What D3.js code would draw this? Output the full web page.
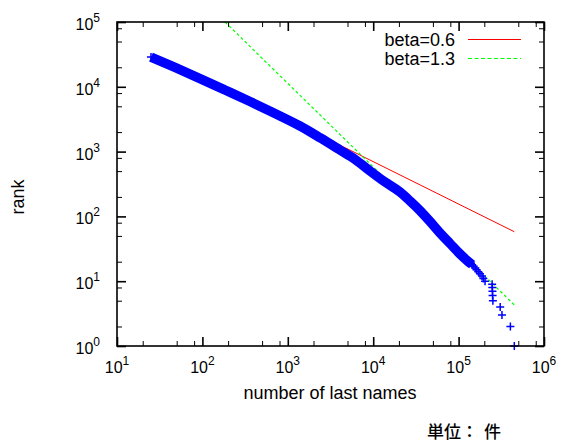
<!DOCTYPE html>
<html><head><meta charset="utf-8">
<script src="https://cdn.jsdelivr.net/npm/d3@7/dist/d3.min.js"></script>
<style>
body{margin:0;background:#fff}
svg{display:block}
text{font-family:"Liberation Sans",Arial,Helvetica,sans-serif;fill:#000}
</style>
</head><body>
<svg id="chart" width="561" height="442"></svg>
<script>
// ---- data ----
// dense band of points: (number of last names, rank)
const bandCounts = [25.0, 47.8, 93.7, 184, 361, 708, 1390, 2380, 4080, 6120, 9180, 13700, 20600, 27000, 35300, 46300, 60600, 79300, 104000, 125000, 144000];
const bandRanks  = [28800, 19900, 13400, 8930, 5930, 3870, 2480, 1640, 1060, 760, 502, 340, 238, 173, 123, 83.4, 55.5, 38.2, 26.3, 21, 18];
// sparse tail of individual points
const tailCounts = [449000, 404000, 322000, 307000, 252000, 250000, 249000, 248000, 247000, 204000, 195000, 188000, 178000, 170000, 162000, 157000, 150000, 140000, 132000, 118000, 112000];
const tailRanks  = [1, 2, 3, 4, 5, 6, 7, 8, 9, 10, 11, 12, 13, 14, 15, 16, 17, 19, 20, 23, 25];
// fitted lines (end points)
const redX = [4080, 449000];
const redY = [1259, 58];
const greenX = [184, 449000];
const greenY = [100000, 4.3];
const legendLabels = ["beta=0.6", "beta=1.3"];
const xExps = [1, 2, 3, 4, 5, 6];
const yExps = [0, 1, 2, 3, 4, 5];
const minorMult = [2, 5, 8];
const xTitle = "number of last names";
const yTitle = "rank";
const unitLabel = ["単位：", "件"];

// ---- drawing ----
const svg = d3.select("#chart");
svg.append("rect").attr("width", 561).attr("height", 442).attr("fill", "#fff");

const L = 117, R = 544, T = 22, B = 346;
const x = d3.scaleLog().domain([10, 1e6]).range([L, R]);
const y = d3.scaleLog().domain([1, 1e5]).range([B, T]);

const xMajor = xExps.map(e => Math.pow(10, e));
const yMajor = yExps.map(e => Math.pow(10, e));
const xMinor = [];
xExps.slice(0, -1).forEach(e => minorMult.forEach(m => xMinor.push(m * Math.pow(10, e))));
const yMinor = [];
yExps.slice(0, -1).forEach(e => minorMult.forEach(m => yMinor.push(m * Math.pow(10, e))));

function axisG(axis, tx, ty, sw) {
  const g = svg.append("g").attr("transform", `translate(${tx},${ty})`).call(axis);
  g.select(".domain").remove();
  g.selectAll(".tick line").attr("stroke", "#000").attr("stroke-width", sw);
  g.selectAll(".tick text").remove();
  return g;
}
axisG(d3.axisBottom(x).tickValues(xMajor).tickSize(-9), 0, B, 1.6);
axisG(d3.axisTop(x).tickValues(xMajor).tickSize(-9), 0, T, 1.6);
axisG(d3.axisBottom(x).tickValues(xMinor).tickSize(-5), 0, B, 1);
axisG(d3.axisTop(x).tickValues(xMinor).tickSize(-5), 0, T, 1);
axisG(d3.axisLeft(y).tickValues(yMajor).tickSize(-9), L, 0, 1.6);
axisG(d3.axisRight(y).tickValues(yMajor).tickSize(-9), R, 0, 1.6);
axisG(d3.axisLeft(y).tickValues(yMinor).tickSize(-5), L, 0, 1);
axisG(d3.axisRight(y).tickValues(yMinor).tickSize(-5), R, 0, 1);

// tick labels
const xl = svg.append("g");
xExps.forEach((e, i) => {
  const t = xl.append("text").attr("x", x(xMajor[i])).attr("y", 373)
    .attr("text-anchor", "middle").attr("font-size", 16);
  t.append("tspan").text("10");
  t.append("tspan").attr("dy", -8).attr("font-size", 12).text(e);
});
const yl = svg.append("g");
yExps.forEach((e, i) => {
  const t = yl.append("text").attr("x", 100).attr("y", y(yMajor[i]) + 8)
    .attr("text-anchor", "end").attr("font-size", 16);
  t.append("tspan").text("10");
  t.append("tspan").attr("dy", -8).attr("font-size", 12).text(e);
});

// titles
svg.append("text").attr("x", 330).attr("y", 399).attr("text-anchor", "middle")
  .attr("font-size", 18).text(xTitle);
svg.append("text").attr("transform", "translate(24,197) rotate(-90)")
  .attr("text-anchor", "middle").attr("font-size", 18).text(yTitle);
const ut = svg.append("text").attr("x", 427).attr("y", 438).attr("font-size", 17)
  .attr("font-weight", 500)
  .style("font-family", '"Noto Sans CJK JP","Noto Sans CJK SC",sans-serif');
ut.append("tspan").text(unitLabel[0]);
ut.append("tspan").attr("dx", 6).text(unitLabel[1]);

// fitted lines (drawn under the data)
const plain = d3.line().x(d => x(d[0])).y(d => y(d[1]));
svg.append("defs").append("clipPath").attr("id", "clip")
  .append("rect").attr("x", L).attr("y", T).attr("width", R - L).attr("height", B - T);
svg.append("path").datum(redX.map((v, i) => [v, redY[i]])).attr("d", plain)
  .attr("fill", "none").attr("stroke", "#ff0000").attr("stroke-width", 1).attr("clip-path", "url(#clip)");
svg.append("path").datum(greenX.map((v, i) => [v, greenY[i]])).attr("d", plain)
  .attr("fill", "none").attr("stroke", "#00ff00").attr("stroke-width", 1.2)
  .attr("stroke-dasharray", "3,2.5").attr("clip-path", "url(#clip)");

// data points
const band = bandCounts.map((c, i) => [c, bandRanks[i]]);
const tail = tailCounts.map((c, i) => [c, tailRanks[i]]);
const line = d3.line().x(d => x(d[0])).y(d => y(d[1])).curve(d3.curveMonotoneX);
svg.append("path").datum(band).attr("d", line).attr("fill", "none")
  .attr("stroke", "#0000ff").attr("stroke-width", 9.5).attr("stroke-linecap", "butt");
const plus = "M-4,0H4M0,-4V4";
svg.append("g").selectAll("path").data(band.concat(tail)).join("path")
  .attr("transform", d => `translate(${x(d[0])},${y(d[1])})`)
  .attr("d", plus).attr("stroke", "#0000ff").attr("stroke-width", 1.5).attr("fill", "none");

// legend
const legColors = ["#ff0000", "#00ff00"];
const legDash = [null, "4,2.5"];
legendLabels.forEach((lab, i) => {
  const by = 46 + i * 19;
  svg.append("text").attr("x", 455).attr("y", by).attr("text-anchor", "end")
    .attr("font-size", 18).text(lab);
  svg.append("line").attr("x1", 468).attr("x2", 521).attr("y1", by - 6.5).attr("y2", by - 6.5)
    .attr("stroke", legColors[i]).attr("stroke-width", 1.2)
    .attr("stroke-dasharray", legDash[i]);
});

// frame
svg.append("rect").attr("x", L).attr("y", T).attr("width", R - L).attr("height", B - T)
  .attr("fill", "none").attr("stroke", "#000").attr("stroke-width", 1.6);
</script>
</body></html>
